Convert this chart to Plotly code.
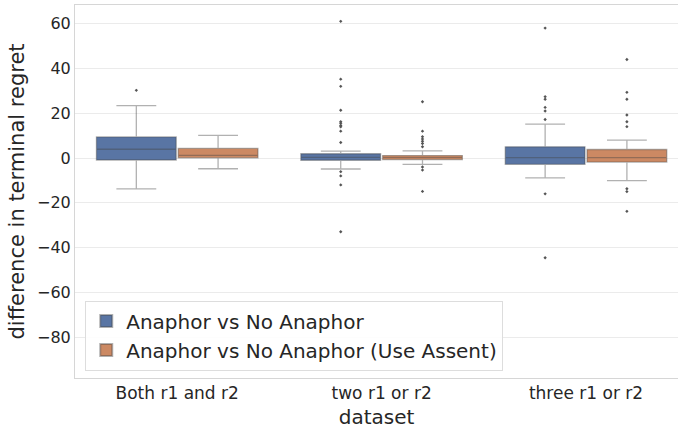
import plotly.graph_objects as go

categories = ["Both r1 and r2", "two r1 or r2", "three r1 or r2"]
series_names = ["Anaphor vs No Anaphor", "Anaphor vs No Anaphor (Use Assent)"]
colors = ["#5975a4", "#cc8963"]

# precomputed box statistics per category
blue_q1 = [-0.9, -1.0, -2.8]
blue_median = [3.9, 0.3, 0.2]
blue_q3 = [9.4, 1.9, 5.0]
blue_low = [-13.8, -4.9, -8.9]
blue_high = [23.4, 3.1, 15.1]
blue_outliers = [
    [30.2],
    [61.0, 35.2, 32.0, 21.3, 16.2, 15.5, 14.5, 13.9, 12.0, 6.9, -6.1, -8.0, -12.0, -32.9],
    [58.0, 27.4, 26.2, 22.6, 21.0, 17.2, -16.0, -44.5],
]

orange_q1 = [0.1, -0.7, -1.8]
orange_median = [1.2, 0.2, 0.2]
orange_q3 = [4.3, 1.1, 3.8]
orange_low = [-4.8, -2.8, -10.1]
orange_high = [10.1, 3.2, 8.0]
orange_outliers = [
    [],
    [25.1, 12.0, 9.5, 8.5, 7.5, 6.5, 5.0, -4.0, -5.4, -14.9],
    [44.0, 29.3, 26.2, 19.2, 16.2, 14.0, -13.7, -15.0, -23.8],
]

stats = [
    (blue_q1, blue_median, blue_q3, blue_low, blue_high, blue_outliers),
    (orange_q1, orange_median, orange_q3, orange_low, orange_high, orange_outliers),
]

offsets = [-0.2, 0.2]
box_w = 0.39

fig = go.Figure()
for s, (q1, med, q3, lo, hi, outs) in enumerate(stats):
    xs = [i + offsets[s] for i in range(len(categories))]
    fig.add_trace(go.Box(
        x=xs, q1=q1, median=med, q3=q3, lowerfence=lo, upperfence=hi,
        name=series_names[s], fillcolor=colors[s],
        line=dict(color="rgba(70,70,70,0.42)", width=1.3),
        width=box_w, whiskerwidth=0.5, boxpoints=False,
        showlegend=True, hoverinfo="skip",
    ))
    ox, oy = [], []
    for i, vals in enumerate(outs):
        for v in vals:
            ox.append(i + offsets[s])
            oy.append(v)
    fig.add_trace(go.Scatter(
        x=ox, y=oy, mode="markers",
        marker=dict(color="#555555", size=2.6, symbol="diamond"),
        showlegend=False, hoverinfo="skip",
    ))

fig.update_layout(
    width=678, height=429,
    margin=dict(l=75, r=0, t=5, b=51),
    paper_bgcolor="white", plot_bgcolor="white",
    font=dict(family="DejaVu Sans", color="#262626"),
    legend=dict(
        x=0.017, y=0.02, xanchor="left", yanchor="bottom",
        bgcolor="rgba(255,255,255,0.9)", bordercolor="#dddddd", borderwidth=1,
        font=dict(size=20, color="#262626"),
        itemsizing="constant", tracegroupgap=0,
    ),
)
fig.update_xaxes(
    range=[-0.5, 2.45],
    tickmode="array", tickvals=list(range(len(categories))), ticktext=categories,
    showgrid=False, zeroline=False,
    showline=True, linecolor="#d6d6d6", linewidth=1, mirror=True,
    tickfont=dict(size=17), ticks="",
    title=dict(text="dataset", font=dict(size=20), standoff=8),
)
fig.update_yaxes(
    range=[-98.2, 68.3],
    tickvals=[60, 40, 20, 0, -20, -40, -60, -80],
    showgrid=True, gridcolor="#ebebeb", gridwidth=1, zeroline=False,
    showline=True, linecolor="#d6d6d6", linewidth=1, mirror=True,
    tickfont=dict(size=16), ticks="",
    title=dict(text="difference in terminal regret", font=dict(size=21), standoff=6),
)

fig.write_html("out.html")
